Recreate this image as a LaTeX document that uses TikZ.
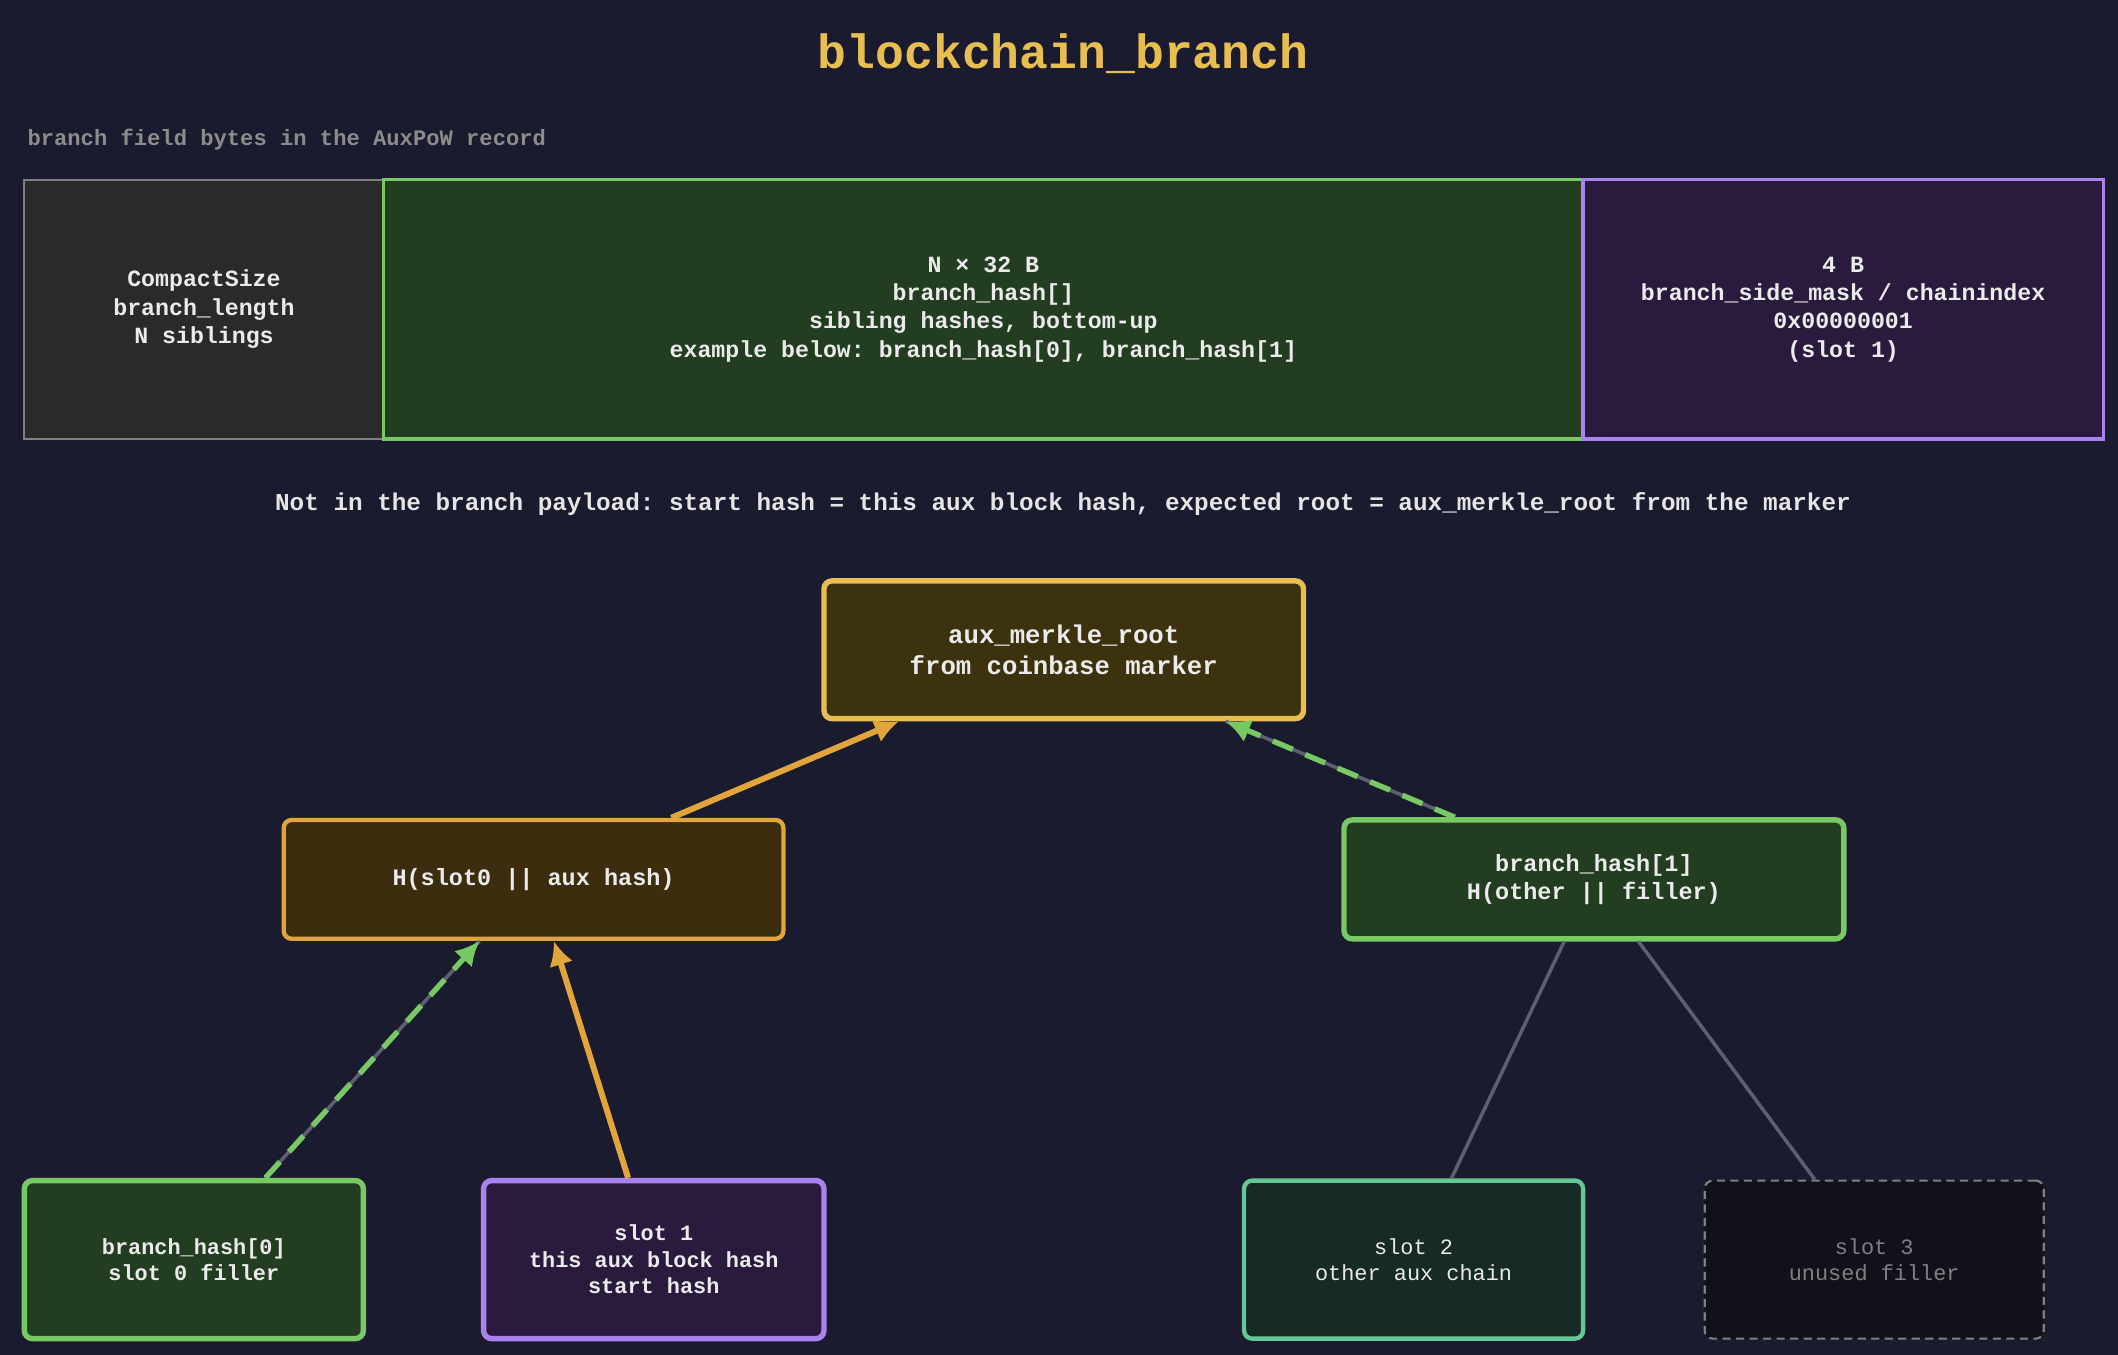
\documentclass[tikz,border=0pt]{standalone}
\usepackage{fontspec}
\setmonofont{Liberation Mono}
\usetikzlibrary{arrows.meta,positioning,calc}
\definecolor{bgnavy}{RGB}{26,27,46}
\definecolor{gold}{RGB}{232,190,80}
\definecolor{orng}{RGB}{225,165,60}
\definecolor{grn}{RGB}{120,200,100}
\definecolor{purp}{RGB}{170,130,240}
\definecolor{teal}{RGB}{100,200,150}
\definecolor{wire}{RGB}{95,95,115}
\tikzset{
  field/.style = {draw, line width=1.2pt, inner sep=0pt, align=center, font=\ttfamily\bfseries\fontsize{8.6}{10.5}\selectfont, text=white!92!black},
  tbox/.style = {draw, rounded corners=3pt, line width=1.6pt, inner sep=0pt, align=center, text=white!92!black},
  up/.style = {-{Latex[length=9pt,width=9pt]}, line width=2.2pt},
  upd/.style = {-{Latex[length=9pt,width=9pt]}, line width=2pt, dash pattern=on 8pt off 5pt, grn},
  under/.style = {wire, line width=1.3pt},
}
\begin{document}
\begin{tikzpicture}[x=0.5pt, y=-0.5pt]
    \fill[bgnavy] (0,0) rectangle (1568,1003);
    \useasboundingbox (0,0) rectangle (1568,1003);
    \node[font=\ttfamily\bfseries\fontsize{17.8}{20}\selectfont, text=gold] (title) at (787,40) {blockchain\_branch};
    \node[font=\ttfamily\bfseries\fontsize{8.2}{10}\selectfont, text=gray!90!white, anchor=west, inner sep=0pt] (sub) at (20,103) {branch field bytes in the AuxPoW record};
    % byte layout
    \node[field, draw=gray, line width=0.8pt, fill={rgb,255:red,42;green,42;blue,42}, minimum width=133pt, minimum height=96pt] (len) at (151,229) {CompactSize\\branch\_length\\N siblings};
    \node[field, draw=grn, fill={rgb,255:red,35;green,61;blue,32}, minimum width=444pt, minimum height=96pt] (hashes) at (728,229) {N × 32 B\\branch\_hash[]\\sibling hashes, bottom-up\\example below: branch\_hash[0], branch\_hash[1]};
    \node[field, draw=purp, fill={rgb,255:red,42;green,27;blue,62}, minimum width=192.5pt, minimum height=96pt] (mask) at (1364.5,229) {4 B\\branch\_side\_mask / chainindex\\0x00000001\\(slot 1)};
    \node[font=\ttfamily\bfseries\fontsize{9}{11}\selectfont, text=white!80!gray] (note) at (787,373) {Not in the branch payload: start hash = this aux block hash, expected root = aux\_merkle\_root from the marker};
    % merkle tree
    \node[tbox, draw=gold, line width=2pt, fill={rgb,255:red,60;green,50;blue,14}, minimum width=177.5pt, minimum height=51pt, font=\ttfamily\bfseries\fontsize{9.5}{11.5}\selectfont] (root) at (787.5,481) {aux\_merkle\_root\\from coinbase marker};
    \node[tbox, draw=orng, fill={rgb,255:red,60;green,45;blue,14}, minimum width=185pt, minimum height=44pt, font=\ttfamily\bfseries\fontsize{8.7}{10.5}\selectfont] (hleft) at (395,651) {H(slot0 || aux hash)};
    \node[tbox, draw=grn, line width=2pt, fill={rgb,255:red,35;green,61;blue,32}, minimum width=185pt, minimum height=44pt, font=\ttfamily\bfseries\fontsize{8.7}{10.5}\selectfont] (hright) at (1180,651) {branch\_hash[1]\\H(other || filler)};
    \node[tbox, draw=grn, line width=2pt, fill={rgb,255:red,35;green,61;blue,32}, minimum width=125.5pt, minimum height=58.5pt, font=\ttfamily\bfseries\fontsize{8.1}{9.8}\selectfont] (slot0) at (143.5,932.5) {branch\_hash[0]\\slot 0 filler};
    \node[tbox, draw=purp, line width=2pt, fill={rgb,255:red,42;green,27;blue,62}, minimum width=126pt, minimum height=58.5pt, font=\ttfamily\bfseries\fontsize{8.1}{9.8}\selectfont] (slot1) at (484,932.5) {slot 1\\this aux block hash\\start hash};
    \node[tbox, draw=teal, fill={rgb,255:red,22;green,42;blue,38}, minimum width=125.5pt, minimum height=58.5pt, font=\ttfamily\fontsize{8.1}{9.8}\selectfont] (slot2) at (1046.5,932.5) {slot 2\\other aux chain};
    \node[tbox, draw=gray, line width=0.8pt, dash pattern=on 3pt off 2pt, fill={rgb,255:red,16;green,17;blue,26}, text=gray, minimum width=125.5pt, minimum height=58.5pt, font=\ttfamily\fontsize{8.1}{9.8}\selectfont] (slot3) at (1387.5,932.5) {slot 3\\unused filler};
    % connectors
    \draw[up, orng] ([xshift=51pt]hleft.north) -- ([xshift=-61pt]root.south);
    \draw[under] ([xshift=-51.5pt]hright.north) -- ([xshift=60pt]root.south);
    \draw[upd] ([xshift=-51.5pt]hright.north) -- ([xshift=60pt]root.south);
    \draw[under] ([xshift=26.5pt]slot0.north) -- ([xshift=-20pt]hleft.south);
    \draw[upd] ([xshift=26.5pt]slot0.north) -- ([xshift=-20pt]hleft.south);
    \draw[up, orng] ([xshift=-9.5pt]slot1.north) -- ([xshift=7.5pt]hleft.south);
    \draw[under] ([xshift=-11pt]hright.south) -- ([xshift=14pt]slot2.north);
    \draw[under] ([xshift=16.5pt]hright.south) -- ([xshift=-22pt]slot3.north);
\end{tikzpicture}
\end{document}
